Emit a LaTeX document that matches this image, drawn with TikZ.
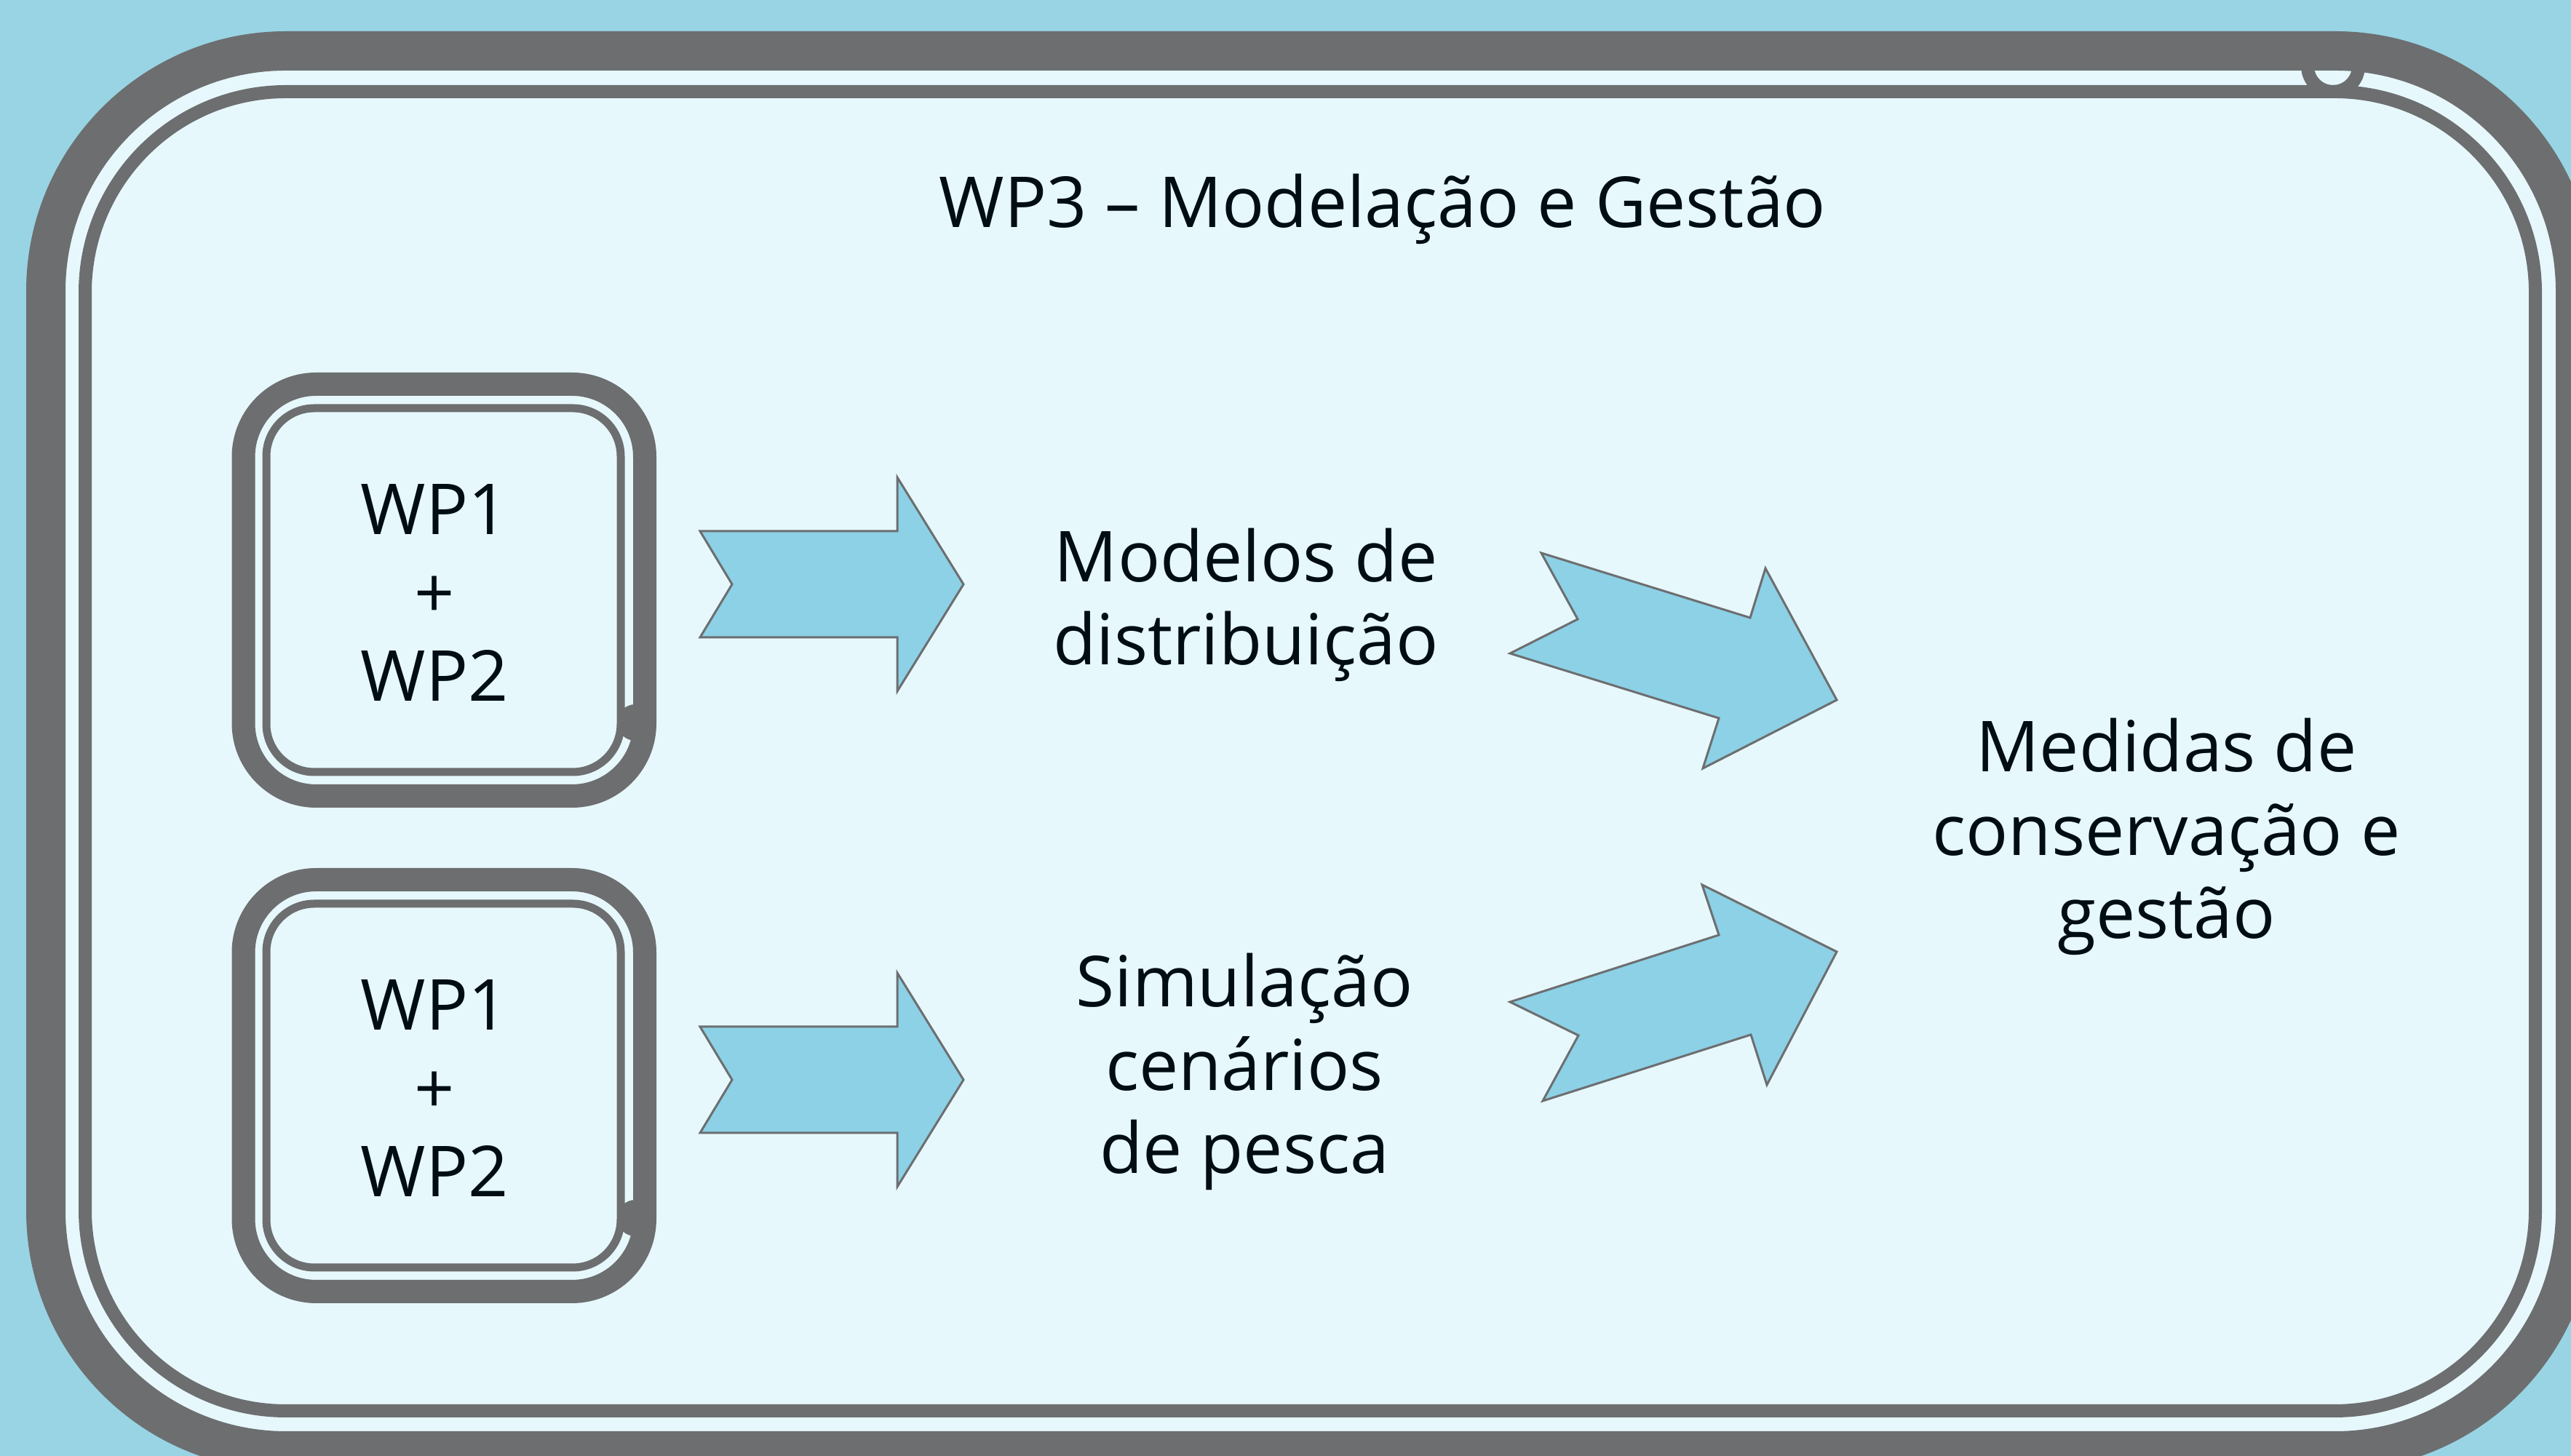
\documentclass[tikz,border=0pt]{standalone}
\usepackage{fontspec}
\setmainfont{Open Sans}
\usepackage{tikz}
\definecolor{SkyBlue}{HTML}{98D4E4}
\definecolor{PaleBlue}{HTML}{E6F8FC}
\definecolor{FrameGray}{HTML}{6D6E70}
\definecolor{ArrowBlue}{HTML}{8CD1E6}
\definecolor{Ink}{HTML}{000D14}
\tikzset{
  rim/.style={draw=FrameGray, line width=#1},
  blockarrow/.style={fill=ArrowBlue, draw=FrameGray, line width=0.03cm, line join=miter},
  txt/.style={align=center, inner sep=0pt, anchor=base, text=Ink,
    font=\fontsize{27.5}{32.7}\selectfont}
}

\begin{document}
\begin{tikzpicture}
\useasboundingbox (0,0) rectangle (35.33,20.01);
\fill[SkyBlue] (0,0) rectangle (35.33,20.01);

% outer frame
\fill[PaleBlue, rounded corners=3.3cm] (0.63,0.07) rectangle (35.39,19.31);
\draw[FrameGray, line width=0.18cm] (32.06,19.10) circle (0.35);
\draw[rim=0.54cm, rounded corners=3.3cm] (0.63,0.07) rectangle (35.39,19.31);
\draw[rim=0.18cm, rounded corners=2.76cm] (1.17,0.62) rectangle (34.84,18.75);
\node[txt] (titulo) at (19.0,16.88) {WP3 – Modelação e Gestão};

% WP boxes (base of a multi-line node = its last line)
\draw[rim=0.32cm, rounded corners=1cm] (3.345,9.07) rectangle (8.86,14.73);
\draw[rim=0.11cm, rounded corners=0.66cm] (3.66,9.40) rectangle (8.53,14.40);
\fill[FrameGray] (8.73,10.08) circle (0.25);
\node[txt] (wpA) at (5.97,10.37) {WP1\\+\\WP2};

\draw[rim=0.32cm, rounded corners=1cm] (3.345,2.26) rectangle (8.86,7.92);
\draw[rim=0.11cm, rounded corners=0.66cm] (3.66,2.59) rectangle (8.53,7.59);
\fill[FrameGray] (8.73,3.27) circle (0.25);
\node[txt] (wpB) at (5.97,3.56) {WP1\\+\\WP2};

% block arrows
\draw[blockarrow] (9.62,12.71) -- (12.33,12.71) -- (12.33,13.45) -- (13.24,11.98)
  -- (12.33,10.51) -- (12.33,11.25) -- (9.62,11.25) -- (10.06,11.98) -- cycle;
\draw[blockarrow] (9.62,5.90) -- (12.33,5.90) -- (12.33,6.64) -- (13.24,5.17)
  -- (12.33,3.70) -- (12.33,4.44) -- (9.62,4.44) -- (10.06,5.17) -- cycle;

\node[txt] (modelos) at (17.12,10.87) {Modelos de\\distribuição};
\node[txt] (simulacao) at (17.10,3.88) {Simulação\\cenários\\de pesca};

\draw[blockarrow] (21.18,12.41) -- (24.05,11.52) -- (24.26,12.20) -- (25.24,10.39)
  -- (23.40,9.45) -- (23.62,10.14) -- (20.75,11.03) -- (21.68,11.50) -- cycle;
\draw[blockarrow] (20.75,6.24) -- (23.62,7.16) -- (23.39,7.85) -- (25.24,6.93)
  -- (24.28,5.10) -- (24.06,5.79) -- (21.20,4.88) -- (21.69,5.78) -- cycle;

\node[txt] (medidas) at (29.77,7.11) {Medidas de\\conservação e\\gestão};
\end{tikzpicture}
\end{document}
